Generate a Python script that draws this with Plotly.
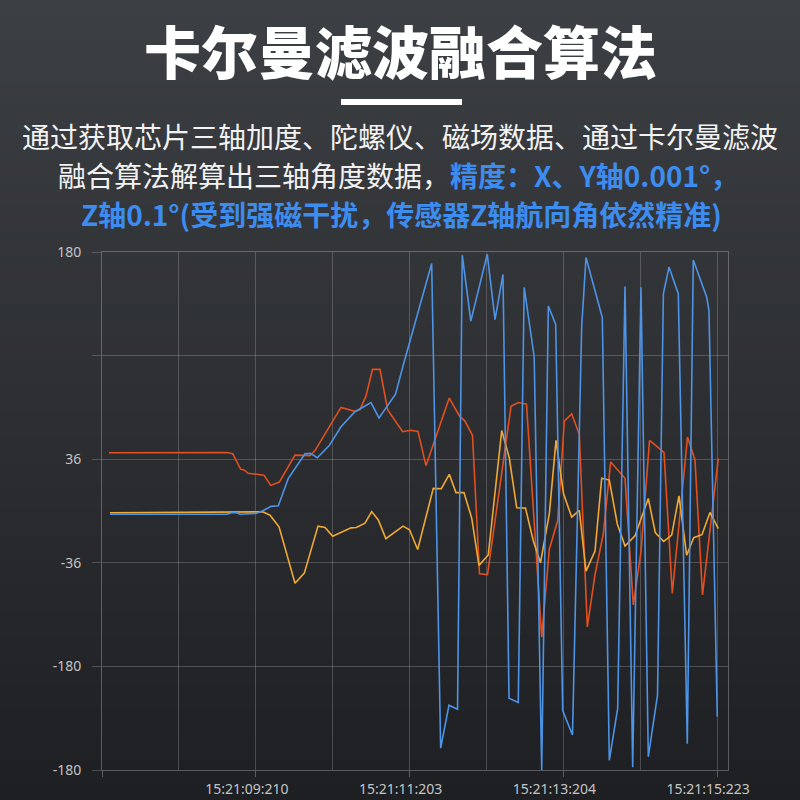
import plotly.graph_objects as go

# ---------------- data (time in seconds from 15:21:07.2, angle in degrees) ----------------
red_t = [0.091, 1.622, 1.700, 1.804, 1.847, 1.902, 2.012, 2.107, 2.194, 2.306, 2.510, 2.705, 2.770,
         3.108, 3.290, 3.355, 3.433, 3.518, 3.615, 3.715, 3.910, 4.018, 4.109, 4.213, 4.516, 4.646,
         4.720, 4.818, 4.909, 5.013, 5.319, 5.416, 5.520, 5.718, 5.817, 5.926, 6.012, 6.108, 6.207,
         6.311, 6.411, 6.519, 6.615, 6.801, 6.909, 7.009, 7.120, 7.308, 7.416, 7.614, 7.711, 7.809, 8.014]
red_v = [40.5, 40.6, 39.8, 29.0, 28.5, 26.2, 25.5, 24.8, 17.8, 20.1, 38.8, 38.5, 42.0,
         72.0, 69.3, 70.5, 80.0, 98.4, 98.4, 70.2, 55.1, 56.1, 55.3, 31.5, 78.5, 66.2,
         62.5, 52.5, -43.7, -44.2, 72.7, 75.4, 74.2, -87.7, -26.6, -6.6, 62.5, 67.4, 53.3,
         -80.6, -44.2, -16.0, 34.1, 22.7, -65.3, -28.0, 49.0, 40.8, -57.2, 51.4, 35.5, -58.3, 36.5]

blue_t = [0.104, 1.622, 1.687, 1.752, 1.795, 2.012, 2.098, 2.198, 2.293, 2.423, 2.640, 2.711, 2.800,
          2.958, 3.108, 3.290, 3.498, 3.602, 3.817, 3.918, 4.287, 4.404, 4.512, 4.623, 4.685, 4.796,
          5.010, 5.111, 5.214, 5.293, 5.413, 5.490, 5.620, 5.718, 5.804, 5.900, 5.991, 6.118, 6.238,
          6.294, 6.506, 6.597, 6.706, 6.801, 6.901, 7.009, 7.104, 7.224, 7.300, 7.373, 7.494, 7.611,
          7.689, 7.863, 7.893, 8.001]
blue_v = [-2.3, -2.3, -1.2, -1.2, -2.3, -1.6, 0.3, 3.2, 3.6, 22.7, 39.7, 40.0, 37.0,
          45.7, 58.5, 69.0, 75.4, 64.7, 81.2, 101.5, 172.0, -164.8, -135.0, -137.8, 177.8, 132.0,
          178.4, 133.0, 164.4, -130.1, -133.1, 155.4, 107.2, -180.0, 142.5, 129.7, -138.7, -155.7, 128.5,
          176.2, 134.4, -173.3, -137.0, 156.0, -178.0, 155.5, -170.8, -127.8, 151.0, 169.5, 151.0, -161.8,
          174.5, 148.8, 139.3, -142.9]

yellow_t = [0.104, 2.012, 2.090, 2.185, 2.302, 2.510, 2.631, 2.809, 2.900, 3.000, 3.238, 3.307, 3.420,
            3.507, 3.593, 3.691, 3.914, 3.999, 4.105, 4.308, 4.412, 4.516, 4.603, 4.707, 4.808, 4.902,
            5.023, 5.198, 5.296, 5.393, 5.507, 5.609, 5.702, 5.817, 5.904, 6.001, 6.108, 6.207, 6.294,
            6.411, 6.498, 6.597, 6.701, 6.801, 6.931, 7.104, 7.195, 7.304, 7.408, 7.503, 7.603, 7.694,
            7.802, 7.906, 8.014]
yellow_v = [-1.2, -0.5, -0.6, -2.9, -11.0, -50.2, -43.2, -10.5, -11.5, -17.5, -11.7, -11.5, -8.4,
            -0.4, -6.2, -19.2, -10.5, -13.0, -26.8, 15.7, 15.5, 25.5, 12.8, 12.8, -5.0, -37.8,
            -30.6, 55.9, 37.0, 2.2, 2.0, -20.8, -36.0, -1.9, 49.1, 12.1, -4.3, 0.4, -41.8,
            -27.8, 22.7, 21.5, -9.0, -24.3, -17.2, 8.7, -15.0, -21.2, -16.8, 10.5, -30.8, -18.5,
            -16.5, -1.0, -12.3]

x_tickvals = [0, 2, 4, 6, 8]
x_ticktext = ["", "15:21:09:210", "15:21:11:203", "15:21:13:204", "15:21:15:223"]
x_minorvals = [1, 3, 5, 7]
y_tickvals = [-180, -108, -36, 36, 108, 180]
y_ticktext = ["-180", "-180", "-36", "36", "", "180"]

title = "卡尔曼滤波融合算法"
line1 = "通过获取芯片三轴加度、陀螺仪、磁场数据、通过卡尔曼滤波"
line2_white = "融合算法解算出三轴角度数据，"
line2_blue = "精度：X、Y轴0.001°，"
line3_blue = "Z轴0.1°(受到强磁干扰，传感器Z轴航向角依然精准)"

RED = "#e2501f"
BLUE = "#4d93e6"
YELLOW = "#f0a935"
TEXT_BLUE = "#3d8cf0"

# ---------------- layout geometry ----------------
W, H = 800, 800
L, R, T, B = 102, 72, 252, 30
PW, PH = W - L - R, H - T - B


def px(xp):
    return (xp - L) / PW


def py(yp):
    return (H - B - yp) / PH


fig = go.Figure()
for t, v, c in [(red_t, red_v, RED), (yellow_t, yellow_v, YELLOW), (blue_t, blue_v, BLUE)]:
    fig.add_trace(go.Scatter(x=t, y=v, mode="lines", line=dict(color=c, width=1.6),
                             hoverinfo="skip", showlegend=False))

# background vertical gradient
shapes = []
n = 160
top = (60, 63, 67)
bot = (30, 31, 34)
for i in range(n):
    f = i / (n - 1)
    col = tuple(int(round(top[k] + (bot[k] - top[k]) * f)) for k in range(3))
    y0p = H * i / n
    y1p = H * (i + 1) / n + 1
    shapes.append(dict(type="rect", xref="paper", yref="paper", layer="below",
                       x0=px(0), x1=px(W), y0=py(y1p), y1=py(y0p),
                       fillcolor="rgb(%d,%d,%d)" % col, line=dict(width=0)))
# white bar under title
shapes.append(dict(type="rect", xref="paper", yref="paper", layer="above",
                   x0=px(341), x1=px(462), y0=py(105), y1=py(99),
                   fillcolor="white", line=dict(width=0)))

CJK = "Noto Sans CJK SC"
annotations = [
    dict(text=title, x=px(400), y=py(49), xref="paper", yref="paper", showarrow=False,
         xanchor="center", yanchor="middle",
         font=dict(family=CJK, size=57, color="white", weight=900)),
    dict(text=line1, x=px(400), y=py(136), xref="paper", yref="paper", showarrow=False,
         xanchor="center", yanchor="middle",
         font=dict(family=CJK, size=28, color="#f2f2f2")),
    dict(text=line2_white + "<span style='color:%s'><b>%s</b></span>" % (TEXT_BLUE, line2_blue),
         x=px(398), y=py(175), xref="paper", yref="paper", showarrow=False,
         xanchor="center", yanchor="middle",
         font=dict(family=CJK, size=28, color="#f2f2f2")),
    dict(text="<b>%s</b>" % line3_blue, x=px(401), y=py(214), xref="paper", yref="paper",
         showarrow=False, xanchor="center", yanchor="middle",
         font=dict(family=CJK, size=28, color=TEXT_BLUE)),
]

GRID = "rgba(190,190,195,0.28)"
AXIS = "rgba(190,190,195,0.38)"

fig.update_layout(
    width=W, height=H,
    autosize=False,
    margin=dict(l=L, r=R, t=T, b=B, pad=0, autoexpand=False),
    paper_bgcolor="#2b2d31",
    plot_bgcolor="rgba(0,0,0,0)",
    shapes=shapes,
    annotations=annotations,
    showlegend=False,
    xaxis=dict(range=[0, PW / 76.9], tickmode="array", tickvals=x_tickvals, ticktext=x_ticktext,
               automargin=False,
               showgrid=True, gridcolor=GRID, gridwidth=1, zeroline=False,
               showline=True, linecolor=AXIS, linewidth=1, mirror=True,
               ticks="outside", ticklen=6, tickcolor=AXIS, ticklabelshift=-9,
               tickfont=dict(family="Noto Sans", size=14, color="#c4c4c4"),
               minor=dict(tickmode="array", tickvals=x_minorvals, showgrid=True,
                          gridcolor=GRID, gridwidth=1, ticks="")),
    yaxis=dict(range=[-180, 180], tickmode="array", tickvals=y_tickvals, ticktext=y_ticktext,
               automargin=False,
               showgrid=True, gridcolor=GRID, gridwidth=1, zeroline=False,
               showline=True, linecolor=AXIS, linewidth=1, mirror=True,
               ticks="outside", ticklen=9, tickcolor=GRID, ticklabelstandoff=8,
               tickfont=dict(family="Noto Sans", size=14, color="#c4c4c4")),
)

fig.write_html("out.html", config={"displayModeBar": False, "responsive": False},
               post_script="document.body.style.margin='0px';document.body.style.overflow='hidden';")
